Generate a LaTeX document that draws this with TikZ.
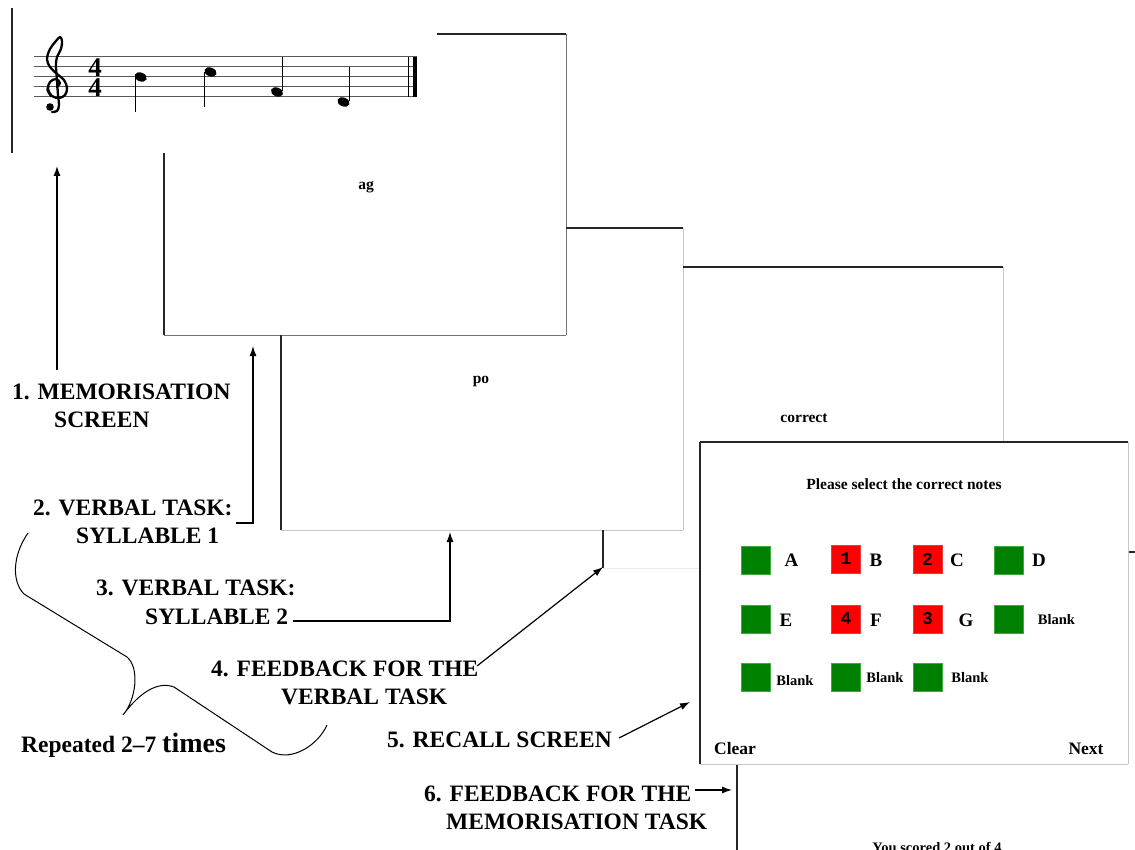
\documentclass[tikz,border=0pt]{standalone}
\usepackage{fontspec}
\setmainfont{Liberation Serif}
\newfontfamily\digitfont{Liberation Mono}
\usetikzlibrary{arrows.meta}
\tikzset{
  lbl/.style={font=\fontsize{23.5}{28}\selectfont\bfseries, inner sep=0pt, anchor=west},
  scrtxt/.style={font=\fontsize{15.5}{18}\selectfont\bfseries, inner sep=0pt},
  dk/.style={draw=black!85, line width=1.1pt},
  md/.style={draw=black!55, line width=1pt},
  lt/.style={draw=black!22, line width=1pt},
  vlt/.style={draw=black!8, line width=1pt},
  arr/.style={-{Latex[length=10pt,width=7pt]}, line width=1.2pt},
  gsq/.style={fill={rgb,255:red,0;green,128;blue,0}, draw={rgb,255:red,60;green,170;blue,60}, line width=0.4pt, minimum width=29pt, minimum height=28pt, inner sep=0pt},
  rsq/.style={fill={rgb,255:red,255;green,0;blue,0}, draw={rgb,255:red,230;green,60;blue,60}, line width=0.4pt, minimum width=29pt, minimum height=28pt, inner sep=0pt, font=\digitfont\bfseries\fontsize{18}{18}\selectfont},
  letter/.style={font=\fontsize{19}{22}\selectfont\bfseries, inner sep=0pt},
  blank/.style={font=\fontsize{14.5}{17}\selectfont\bfseries, inner sep=0pt},
  staffline/.style={draw=black!65, line width=1pt},
  stem/.style={draw=black, line width=1pt},
  tsig/.style={font=\fontsize{27}{27}\selectfont\bfseries, inner sep=0pt}
}
\begin{document}
\begin{tikzpicture}[x=1pt,y=-1pt]
\useasboundingbox (0,0) rectangle (1135,850);
\clip (0,0) rectangle (1135,850);

% ---------- screen 1: memorisation ----------
\draw[dk] (12,8) -- (12,153);
% staff
\foreach \yy in {57,67,77,87,97}{\draw[staffline] (34,\yy) -- (417,\yy);}
\draw[line width=1pt] (408.5,57) -- (408.5,97);
\fill (412.5,57) rectangle (417,97);
% treble clef
\draw[line width=2.3pt, line cap=round, line join=round] plot[smooth, tension=0.6] coordinates {(57,87) (60,83) (56,79) (50,82) (48,89) (52,96) (59,98) (65,95) (67,88) (64,80) (57,74) (50,67) (47,59) (50,49) (56,41) (60,37) (62,41) (61,49) (57,57) (56,66) (57,80) (58,95) (59,105) (57,111) (52,112)};
\draw[line width=1.2pt] plot[smooth, tension=0.6] coordinates {(49,84) (47,90) (51,97)};
\fill (50,107) circle (3.8);
% time signature
\node[tsig] (ts1) at (95,67.5) {4};
\node[tsig] (ts2) at (95,87.5) {4};
% notes
\fill[rotate around={-22:(140.7,77)}] (140.7,77) ellipse (6.3 and 4.4);
\draw[stem] (135,77.5) -- (135,112);
\fill[rotate around={-22:(210.5,72)}] (210.5,72) ellipse (6.3 and 4.4);
\draw[stem] (204.8,72.5) -- (204.8,107);
\fill[rotate around={-22:(277,92)}] (277,92) ellipse (6.3 and 4.4);
\draw[stem] (282.8,91.5) -- (282.8,57);
\fill[rotate around={-22:(343.5,102)}] (343.5,102) ellipse (6.3 and 4.4);
\draw[stem] (349.3,101.5) -- (349.3,67);

% ---------- screen 2: syllable 1 ----------
\draw[dk] (437,34) -- (566,34);
\draw[md] (566,34) -- (566,335);
\draw[md] (164,335) -- (566,335);
\draw[dk] (164,153) -- (164,335);
\node[scrtxt] (ag) at (366,187) {ag};

% ---------- screen 3: syllable 2 ----------
\draw[dk] (566,228) -- (683,228);
\draw[lt] (683,228) -- (683,530);
\draw[lt] (281,530) -- (683,530);
\draw[dk] (281,335) -- (281,530);
\node[scrtxt] (po) at (481,381) {po};

% ---------- screen 4: feedback verbal ----------
\draw[dk] (683,267) -- (1003,267);
\draw[lt] (1003,267) -- (1003,442);
\draw[dk] (603,530) -- (603,568);
\draw[vlt] (603,568) -- (700,568);
\node[scrtxt] (corr) at (804,418) {correct};

% ---------- screen 6: memorisation feedback (behind) ----------
\draw[dk] (1128,552) -- (1135,552);
\draw[dk] (737,764) -- (737,850);
\node[font=\fontsize{14.5}{17}\selectfont\bfseries, inner sep=0pt, anchor=base] (score) at (937,852) {You scored 2 out of 4};

% ---------- screen 5: recall ----------
\draw[dk] (700,442) -- (1128,442);
\draw[dk] (700,442) -- (700,764);
\draw[lt] (1128,442) -- (1128,764);
\draw[lt] (700,764) -- (1128,764);
\node[scrtxt] (please) at (904,484) {Please select the correct notes};

\node[gsq] (qA) at (756,560) {};
\node[letter] (lA) at (791.5,560) {A};
\node[rsq] (q1) at (846,559) {1};
\node[letter] (lB) at (876,560) {B};
\node[rsq] (q2) at (927.5,559) {2};
\node[letter] (lC) at (957,560) {C};
\node[gsq] (qD) at (1009,560) {};
\node[letter] (lD) at (1039,560) {D};

\node[gsq] (qE) at (755.5,619) {};
\node[letter] (lE) at (786,620) {E};
\node[rsq] (q4) at (846,619) {4};
\node[letter] (lF) at (876,620) {F};
\node[rsq] (q3) at (927.5,619) {3};
\node[letter] (lG) at (966,620) {G};
\node[gsq] (qH) at (1009,619) {};
\node[blank] (b1) at (1056.5,620) {Blank};

\node[gsq] (qI) at (756,677) {};
\node[blank] (b2) at (795,681) {Blank};
\node[gsq] (qJ) at (846,677) {};
\node[blank] (b3) at (885,677.5) {Blank};
\node[gsq] (qK) at (927.5,677) {};
\node[blank] (b4) at (970,677.5) {Blank};

\node[font=\fontsize{17.5}{20}\selectfont\bfseries, inner sep=0pt] (clear) at (735,749) {Clear};
\node[font=\fontsize{17.5}{20}\selectfont\bfseries, inner sep=0pt] (next) at (1086,749) {Next};

% ---------- labels ----------
\node[lbl] (m1a) at (12,392) {1. MEMORISATION};
\node[lbl] (m1b) at (54,420) {SCREEN};
\node[lbl] (m2a) at (33,508) {2. VERBAL TASK:};
\node[lbl] (m2b) at (76,536) {SYLLABLE 1};
\node[lbl] (m3a) at (96,588) {3. VERBAL TASK:};
\node[lbl] (m3b) at (145,617) {SYLLABLE 2};
\node[lbl] (m4a) at (211,669) {4. FEEDBACK FOR THE};
\node[lbl] (m4b) at (281,697) {VERBAL TASK};
\node[lbl] (m5) at (387,740) {5. RECALL SCREEN};
\node[lbl] (m6a) at (424,794) {6. FEEDBACK FOR THE};
\node[lbl] (m6b) at (446,822) {MEMORISATION TASK};
\node[inner sep=0pt, anchor=base west] (rep) at (21,752) {\fontsize{23.5}{28}\selectfont\bfseries Repeated 2--7 \fontsize{28}{32}\selectfont times};

% ---------- arrows ----------
\coordinate (s1) at (57,370);  \coordinate (t1) at (57,166);
\coordinate (s2) at (236,523); \coordinate (t2) at (253,346);
\coordinate (s3) at (293,621); \coordinate (t3) at (450,532);
\coordinate (s4) at (477,666); \coordinate (t4) at (603,567);
\coordinate (s5) at (619,738); \coordinate (t5) at (690,702);
\coordinate (s6) at (695,790); \coordinate (t6) at (732,790);
\draw[arr] (s1) -- (t1);
\draw[arr] (s2) -| (t2);
\draw[arr] (s3) -| (t3);
\draw[arr] (s4) -- (t4);
\draw[arr] (s5) -- (t5);
\draw[arr] (s6) -- (t6);

% ---------- brace ----------
\draw[line width=1pt] (28,533) .. controls (12,556) and (12,582) .. (24,594)
  -- (127,657) .. controls (140,668) and (136,700) .. (123,715)
  .. controls (140,692) and (158,681) .. (174,687)
  -- (272,752) .. controls (292,762) and (318,745) .. (327,725);
\end{tikzpicture}
\end{document}
